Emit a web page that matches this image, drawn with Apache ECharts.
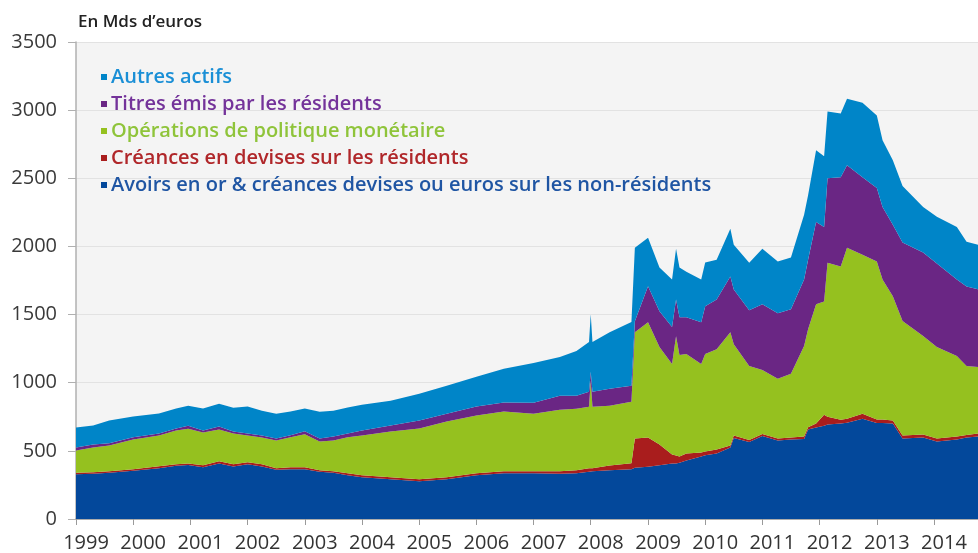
<!DOCTYPE html>
<html lang="fr">
<head>
  <meta charset="UTF-8">
  <title>Actif de l'Eurosystème</title>
  <script src="https://cdn.jsdelivr.net/npm/echarts@6/dist/echarts.min.js"></script>
  <style>
    html, body { margin: 0; padding: 0; background: #fff; }
  </style>
</head>
<body>
<div id="main" style="width: 978px;height:553px;"></div>
<script>
  // dates en années décimales
  var dates = [
    1999.00, 1999.30, 1999.58, 2000.00, 2000.45, 2000.75, 2000.96, 2001.22, 2001.50, 2001.75,
    2002.00, 2002.25, 2002.50, 2002.75, 2003.00, 2003.26, 2003.50, 2003.75, 2004.00, 2004.50,
    2005.00, 2005.48, 2006.00, 2006.48, 2007.00, 2007.46, 2007.75, 2007.97, 2008.00, 2008.03,
    2008.33, 2008.71, 2008.77, 2009.00, 2009.20, 2009.42, 2009.49, 2009.55, 2009.67, 2009.93,
    2010.00, 2010.20, 2010.44, 2010.50, 2010.77, 2011.00, 2011.27, 2011.50, 2011.73, 2011.80,
    2011.94, 2012.08, 2012.14, 2012.37, 2012.48, 2012.75, 2013.00, 2013.10, 2013.28, 2013.45,
    2013.81, 2014.05, 2014.40, 2014.57, 2014.77
  ];

  // en Mds d'euros
  var avoirs = [
    328, 332, 339, 354, 372, 390, 397, 379, 408, 386,
    401, 386, 361, 365, 365, 346, 339, 321, 306, 292,
    277, 292, 321, 335, 335, 332, 335, 346, 346, 350,
    357, 365, 376, 383, 394, 408, 408, 412, 430, 459,
    467, 481, 525, 594, 565, 609, 576, 583, 587, 656,
    671, 685, 693, 700, 707, 736, 704, 704, 700, 591,
    598, 569, 583, 598, 605
  ];
  var creances = [
    11, 11, 11, 11, 15, 11, 11, 15, 15, 15,
    15, 15, 11, 15, 15, 11, 11, 15, 15, 15,
    15, 15, 15, 15, 15, 18, 22, 26, 26, 22,
    36, 44, 215, 215, 153, 66, 58, 47, 51, 29,
    29, 29, 15, 18, 15, 15, 15, 15, 18, 18,
    29, 80, 58, 29, 29, 36, 26, 26, 22, 22,
    22, 22, 22, 18, 22
  ];
  var politique = [
    164, 182, 190, 219, 226, 248, 255, 241, 233, 226,
    197, 197, 204, 219, 241, 211, 226, 263, 292, 335,
    372, 408, 423, 438, 423, 452, 452, 452, 642, 452,
    438, 452, 780, 846, 715, 664, 875, 744, 729, 649,
    715, 736, 831, 671, 543, 470, 438, 467, 664, 718,
    875, 831, 1130, 1123, 1254, 1167, 1159, 1028, 912, 839,
    722, 671, 591, 507, 489
  ];
  var titres = [
    22, 22, 15, 15, 15, 15, 22, 15, 22, 15,
    15, 15, 15, 15, 22, 22, 29, 29, 36, 44,
    58, 58, 66, 66, 80, 102, 95, 109, 66, 109,
    124, 117, 80, 263, 263, 270, 270, 277, 270, 306,
    350, 365, 408, 401, 408, 481, 481, 474, 489, 510,
    605, 547, 620, 656, 605, 569, 540, 532, 525, 576,
    613, 613, 561, 583, 569
  ];
  var autres = [
    146, 139, 168, 153, 146, 146, 146, 160, 168, 175,
    197, 182, 182, 175, 168, 197, 190, 190, 190, 182,
    197, 204, 219, 248, 292, 284, 328, 365, 423, 365,
    416, 467, 540, 357, 321, 350, 372, 365, 335, 314,
    321, 292, 350, 328, 350, 408, 379, 379, 474, 474,
    525, 518, 489, 467, 489, 547, 532, 489, 474, 416,
    335, 343, 386, 328, 328
  ];
  var fin = 2014.77;

  var noms = [
    'Avoirs en or & créances devises ou euros sur les non-résidents',
    'Créances en devises sur les résidents',
    'Opérations de politique monétaire',
    'Titres émis par les résidents',
    'Autres actifs'
  ];
  var valeurs = [avoirs, creances, politique, titres, autres];
  var couleurs = ['#03489b', '#a91d1d', '#95c11f', '#6a2684', '#0085c8'];
  var couleursTexte = ['#1f55a3', '#b0272a', '#8fc43a', '#74339a', '#1a8fd6'];

  // année décimale -> horodatage
  function enDate(a) {
    var y = Math.floor(a);
    var d0 = new Date(y, 0, 1).getTime();
    var d1 = new Date(y + 1, 0, 1).getTime();
    return d0 + (a - y) * (d1 - d0);
  }

  var myChart = echarts.init(document.getElementById('main'));

  var series = noms.map(function (nom, s) {
    return {
      name: nom,
      type: 'line',
      stack: 'actif',
      symbol: 'none',
      lineStyle: { width: 0 },
      areaStyle: { color: couleurs[s], opacity: 1 },
      itemStyle: { color: couleurs[s] },
      data: dates.map(function (d, i) { return [enDate(d), valeurs[s][i]]; })
    };
  });

  var legendData = [];
  for (var s = noms.length - 1; s >= 0; s--) {
    legendData.push({ name: noms[s], textStyle: { color: couleursTexte[s] } });
  }

  var an = 365.25 * 24 * 3600 * 1000;

  option = {
    animation: false,
    textStyle: { fontFamily: 'Open Sans' },
    graphic: [{
      type: 'text',
      left: 78,
      top: 14,
      style: {
        text: 'En Mds d\u2019euros',
        fontFamily: 'Open Sans',
        fontSize: 17,
        fontWeight: 600,
        fill: '#222'
      }
    }],
    legend: {
      orient: 'vertical',
      left: 96,
      top: 62,
      icon: 'rect',
      itemWidth: 6,
      itemHeight: 6,
      itemGap: 7,
      selectedMode: false,
      textStyle: {
        fontFamily: 'Open Sans',
        fontSize: 20,
        fontWeight: 600,
        lineHeight: 20,
        padding: [0, 0, 0, -1]
      },
      data: legendData
    },
    grid: {
      left: 76,
      right: 0,
      top: 42,
      bottom: 32,
      show: true,
      backgroundColor: '#f4f4f4',
      borderWidth: 0
    },
    xAxis: {
      type: 'time',
      min: enDate(1999),
      max: enDate(fin),
      minInterval: an * 0.9,
      maxInterval: an * 1.1,
      axisLine: { show: true, lineStyle: { color: '#9a9a9a', width: 1.5 } },
      axisTick: { show: true, length: 6, lineStyle: { color: '#9a9a9a' } },
      splitLine: { show: false },
      axisLabel: {
        fontSize: 20,
        color: '#333',
        margin: 14,
        padding: [0, 0, 0, 20],
        showMinLabel: true,
        showMaxLabel: false,
        hideOverlap: false,
        formatter: function (v) {
          var d = new Date(v);
          return (d.getMonth() === 0 && d.getDate() === 1) ? String(d.getFullYear()) : '';
        }
      }
    },
    yAxis: {
      type: 'value',
      min: 0,
      max: 3500,
      interval: 500,
      axisLine: { show: true, lineStyle: { color: '#b0b0b0', width: 1.5 } },
      axisTick: { show: true, length: 8, lineStyle: { color: '#b0b0b0' } },
      splitLine: { show: true, lineStyle: { color: '#e2e2e2' } },
      axisLabel: {
        fontSize: 20,
        color: '#3a3a3a',
        margin: 19,
        formatter: function (v) { return String(v); }
      }
    },
    series: series
  };

  myChart.setOption(option);
</script>
</body>
</html>
